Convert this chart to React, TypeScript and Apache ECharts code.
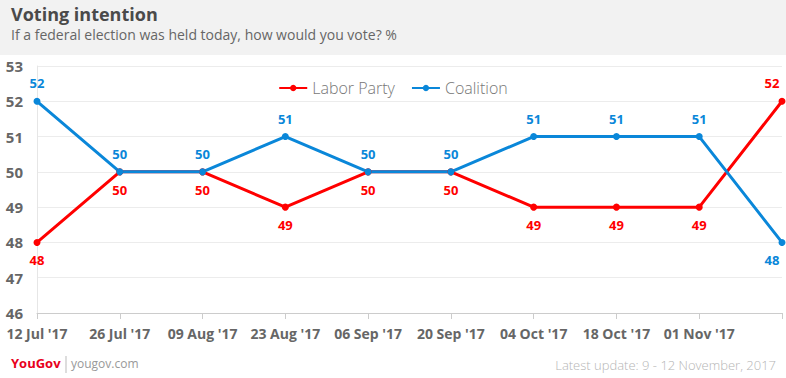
import React, { useEffect, useRef } from "react";
import * as echarts from "echarts";

const categories = ["12 Jul '17", "26 Jul '17", "09 Aug '17", "23 Aug '17", "06 Sep '17", "20 Sep '17", "04 Oct '17", "18 Oct '17", "01 Nov '17", "15 Nov '17"];
const labor = [48, 50, 50, 49, 50, 50, 49, 49, 49, 52];
const coalition = [52, 50, 50, 51, 50, 50, 51, 51, 51, 48];
const laborAbove = [false, false, false, false, false, false, false, false, false, true];
const coalitionAbove = [true, true, true, true, true, true, true, true, true, false];

const RED = "#ff0000";
const BLUE = "#0a87d9";
const FONT = "'Open Sans', Lato, sans-serif";

export default function App() {
  const ref = useRef<HTMLDivElement>(null);
  useEffect(() => {
    document.body.style.margin = "0";
    const chart = echarts.init(ref.current!, null, { renderer: "svg" });
    const last = categories.length - 1;
    const mk = (vals: number[], above: boolean[], color: string) =>
      vals.map((v, i) => ({
        value: v,
        label: {
          show: true,
          position: above[i] ? "top" : "bottom",
          distance: 8,
          offset: i === last ? [-10, 0] : [0, 0],
          color,
          fontFamily: FONT,
          fontWeight: "bold",
          fontSize: 13,
        },
      }));
    chart.setOption({
      animation: false,
      textStyle: { fontFamily: FONT },
      graphic: [
        { type: "rect", left: 0, top: 0, shape: { width: 786, height: 55 }, style: { fill: "#f2f2f2" }, z: -1 },
        { type: "text", left: 11, top: 5, style: { text: "Voting intention", font: `bold 18px ${FONT}`, fill: "#4a4a4a" } },
        { type: "text", left: 11, top: 27, style: { text: "If a federal election was held today, how would you vote? %", font: `14px ${FONT}`, fill: "#666" } },
        { type: "text", left: 11, top: 356, style: { text: "YouGov", font: `bold 13px ${FONT}`, fill: "#e8001c" } },
        { type: "line", shape: { x1: 66, y1: 356, x2: 66, y2: 373 }, style: { stroke: "#bbb", lineWidth: 1 } },
        { type: "text", left: 71, top: 357, style: { text: "yougov.com", font: `12px ${FONT}`, fill: "#999" } },
        { type: "text", right: 10, top: 358, style: { text: "Latest update: 9 - 12 November, 2017", font: `300 13px ${FONT}`, fill: "#b5b5b5" } },
      ],
      legend: {
        top: 75,
        left: "center",
        itemWidth: 28,
        itemHeight: 8,
        itemGap: 16,
        textStyle: { color: "#777", fontSize: 16, fontFamily: FONT, fontWeight: 300 },
        data: ["Labor Party", "Coalition"],
      },
      grid: { left: 37, right: 4, top: 66, bottom: 65, containLabel: false },
      xAxis: {
        type: "category",
        boundaryGap: false,
        data: categories,
        axisLine: { lineStyle: { color: "#ccc" } },
        axisTick: { show: true, alignWithLabel: true, length: 6, lineStyle: { color: "#ccc" } },
        axisLabel: {
          color: "#666",
          fontSize: 14,
          fontWeight: "bold",
          fontFamily: FONT,
          margin: 13,
          formatter: (v: string, i: number) => (i === categories.length - 1 ? "" : v),
          interval: 0,
        },
      },
      yAxis: {
        type: "value",
        min: 46,
        max: 53,
        interval: 1,
        axisLine: { show: true, lineStyle: { color: "#e6e6e6" } },
        splitLine: { lineStyle: { color: "#ececec" } },
        axisLabel: { color: "#666", fontSize: 15, fontWeight: "bold", fontFamily: FONT, margin: 14 },
      },
      series: [
        {
          name: "Labor Party",
          type: "line",
          data: mk(labor, laborAbove, RED),
          itemStyle: { color: RED },
          lineStyle: { color: RED, width: 3 },
          symbol: "circle",
          symbolSize: 7,
        },
        {
          name: "Coalition",
          type: "line",
          data: mk(coalition, coalitionAbove, BLUE),
          itemStyle: { color: BLUE },
          lineStyle: { color: BLUE, width: 3 },
          symbol: "circle",
          symbolSize: 7,
        },
      ],
    });
    return () => chart.dispose();
  }, []);
  return <div ref={ref} style={{ width: 786, height: 378 }} />;
}
